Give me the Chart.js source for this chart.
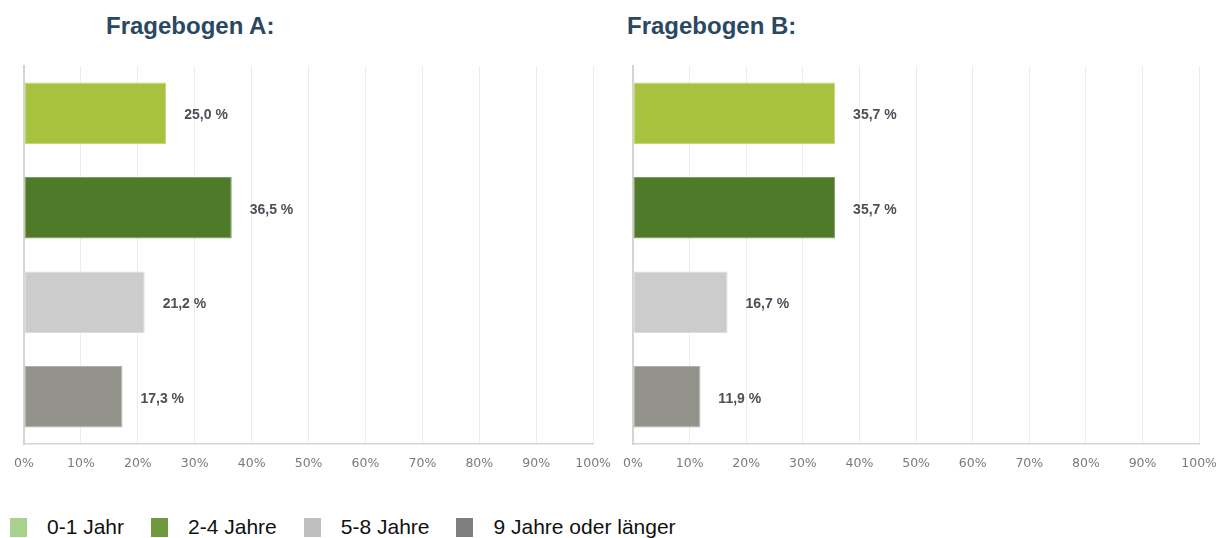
<!DOCTYPE html>
<html>
<head>
<meta charset="utf-8">
<script src="https://cdn.jsdelivr.net/npm/chart.js@4"></script>
<style>
  body { margin: 0; width: 1216px; height: 538px; overflow: hidden; background: #fff; position: relative; font-family: "Liberation Sans", Arial, sans-serif; }
  .title { position: absolute; top: 12px; font: bold 24px "Liberation Sans", Arial, sans-serif; color: #2b4862; }
  .box { position: absolute; top: 56px; height: 427px; }
  #legend { position: absolute; left: 10px; top: 515px; display: flex; align-items: center; font-size: 21px; color: #111; }
  #legend span.sw { display: inline-block; width: 17px; height: 19px; margin-right: 20px; }
  #legend span.lab { margin-right: 27px; }
</style>
</head>
<body>
<div class="title" style="left:106px">Fragebogen A:</div>
<div class="title" style="left:627px">Fragebogen B:</div>
<div class="box" style="left:0;width:623px"><canvas id="chartA"></canvas></div>
<div class="box" style="left:610px;width:619px"><canvas id="chartB"></canvas></div>
<div id="legend"></div>
<script>
const categories = ['0-1 Jahr', '2-4 Jahre', '5-8 Jahre', '9 Jahre oder länger']
const valuesA = [25.0, 36.5, 21.2, 17.3]
const valuesB = [35.7, 35.7, 16.7, 11.9]
const xTicks = [0, 10, 20, 30, 40, 50, 60, 70, 80, 90, 100]
const barColors = ['#a8c23f', '#4f7a29', '#cccccc', '#94938b']
const barBorders = ['#c3d57d', '#7f9e63', '#dcdcdc', '#b0afa8']
const legendColors = ['#a9d18e', '#70993f', '#bfbfbf', '#7f7f7f']

// legend below both charts
const legendEl = document.getElementById('legend')
categories.forEach((c, i) => {
  legendEl.insertAdjacentHTML('beforeend',
    '<span class="sw" style="background:' + legendColors[i] + '"></span><span class="lab">' + c + '</span>')
})

// value label right of each bar
const valueLabels = {
  id: 'valueLabels',
  afterDatasetsDraw(chart) {
    const ctx = chart.ctx
    const ds = chart.data.datasets[0]
    ctx.save()
    ctx.font = 'bold 14px "Liberation Sans", Arial, sans-serif'
    ctx.fillStyle = '#4b5058'
    ctx.textBaseline = 'middle'
    chart.getDatasetMeta(0).data.forEach((bar, i) => {
      const txt = ds.data[i].toFixed(1).replace('.', ',') + ' %'
      ctx.fillText(txt, bar.x + 18, bar.y + 2)
    })
    ctx.restore()
  }
}

function makeChart(id, values, pad) {
  return new Chart(document.getElementById(id), {
    type: 'bar',
    data: {
      labels: categories,
      datasets: [{
        data: values,
        backgroundColor: barColors,
        borderColor: barBorders,
        borderWidth: 1,
        borderSkipped: false,
        barPercentage: 0.65,
        categoryPercentage: 1
      }]
    },
    options: {
      indexAxis: 'y',
      responsive: true,
      maintainAspectRatio: false,
      animation: false,
      layout: { padding: pad },
      scales: {
        x: {
          min: 0,
          max: 100,
          afterBuildTicks: (axis) => { axis.ticks = xTicks.map(v => ({ value: v })) },
          ticks: {
            callback: (v) => v + '%',
            color: '#7a7a7a',
            padding: 12,
            maxRotation: 0,
            autoSkip: false,
            font: { size: 12.5, family: '"DejaVu Sans", sans-serif' }
          },
          grid: { color: '#ececec', drawTicks: false },
          border: { color: '#d4d4d4', width: 1.5 }
        },
        y: {
          ticks: { display: false },
          grid: { display: false, drawTicks: false },
          border: { color: '#d4d4d4', width: 2 }
        }
      },
      plugins: {
        legend: { display: false },
        tooltip: { enabled: false }
      }
    },
    plugins: [valueLabels]
  })
}

makeChart('chartA', valuesA, { top: 10, left: 24, right: 20, bottom: 0 })
makeChart('chartB', valuesB, { top: 10, left: 23, right: 23, bottom: 0 })
</script>
</body>
</html>
